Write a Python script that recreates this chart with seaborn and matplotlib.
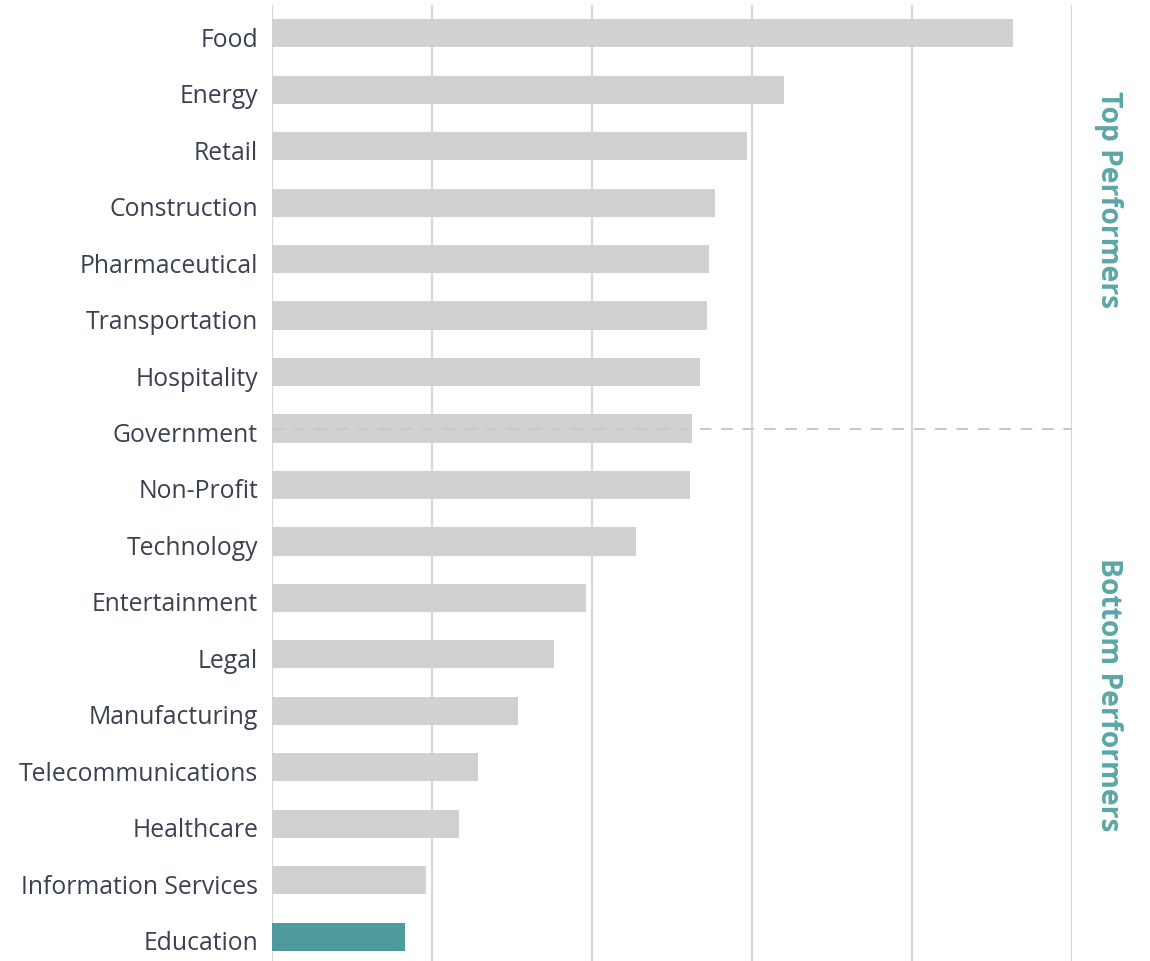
import matplotlib
matplotlib.use("Agg")
import matplotlib.pyplot as plt
from matplotlib.transforms import ScaledTranslation
import seaborn as sns
import pandas as pd

categories = ["Food", "Energy", "Retail", "Construction", "Pharmaceutical",
              "Transportation", "Hospitality", "Government", "Non-Profit",
              "Technology", "Entertainment", "Legal", "Manufacturing",
              "Telecommunications", "Healthcare", "Information Services",
              "Education"]
values = [4.63, 3.20, 2.97, 2.77, 2.73, 2.72, 2.675, 2.625, 2.61,
          2.275, 1.96, 1.76, 1.54, 1.29, 1.17, 0.96, 0.83]
highlight = ["other"] * 16 + ["focus"]
grid_ticks = [0, 1, 2, 3, 4, 5]
divider_category = "Government"

df = pd.DataFrame({"category": categories, "value": values, "group": highlight})

sns.set_theme(style="white")
plt.rcParams["font.family"] = ["Open Sans", "DejaVu Sans"]

fig = plt.figure(figsize=(11.5, 9.61), dpi=100)
ax = fig.add_axes([272 / 1150, 0, 800 / 1150, 1 - 5 / 961])

sns.barplot(data=df, x="value", y="category", hue="group", order=categories,
            palette={"other": "#d1d1d3", "focus": "#4f9a9b"}, width=0.5,
            legend=False, ax=ax, zorder=3, saturation=1, linewidth=0)

ax.set_xlim(0, 5)
ax.set_ylim(16.43, -0.5)
ax.set_xticks(grid_ticks)
ax.set_xticklabels([])
ax.grid(axis="x", color="#d9d9d9", linewidth=1.6, zorder=0)
ax.grid(axis="y", visible=False)
for s in ax.spines.values():
    s.set_visible(False)
ax.set_xlabel("")
ax.set_ylabel("")
ax.tick_params(axis="y", length=0, pad=10, labelsize=17.8, labelcolor="#3b4151")
ax.tick_params(axis="x", length=0)
offset = ScaledTranslation(0, -4 / 100, fig.dpi_scale_trans)
for lab in ax.get_yticklabels():
    lab.set_transform(lab.get_transform() + offset)

div_y = categories.index(divider_category)
ax.axhline(div_y, color="#c8c8c8", linewidth=1.4, linestyle=(0, (6, 5)), zorder=4)

ax.text(1.046, 1 - (200 - 5) / 956, "Top Performers", transform=ax.transAxes,
        rotation=-90, ha="center", va="center", fontsize=20.3, fontweight="bold",
        color="#5ba6a6")
ax.text(1.046, 1 - (695 - 5) / 956, "Bottom Performers", transform=ax.transAxes,
        rotation=-90, ha="center", va="center", fontsize=20.3, fontweight="bold",
        color="#5ba6a6")

fig.savefig("out.png", dpi=100)
